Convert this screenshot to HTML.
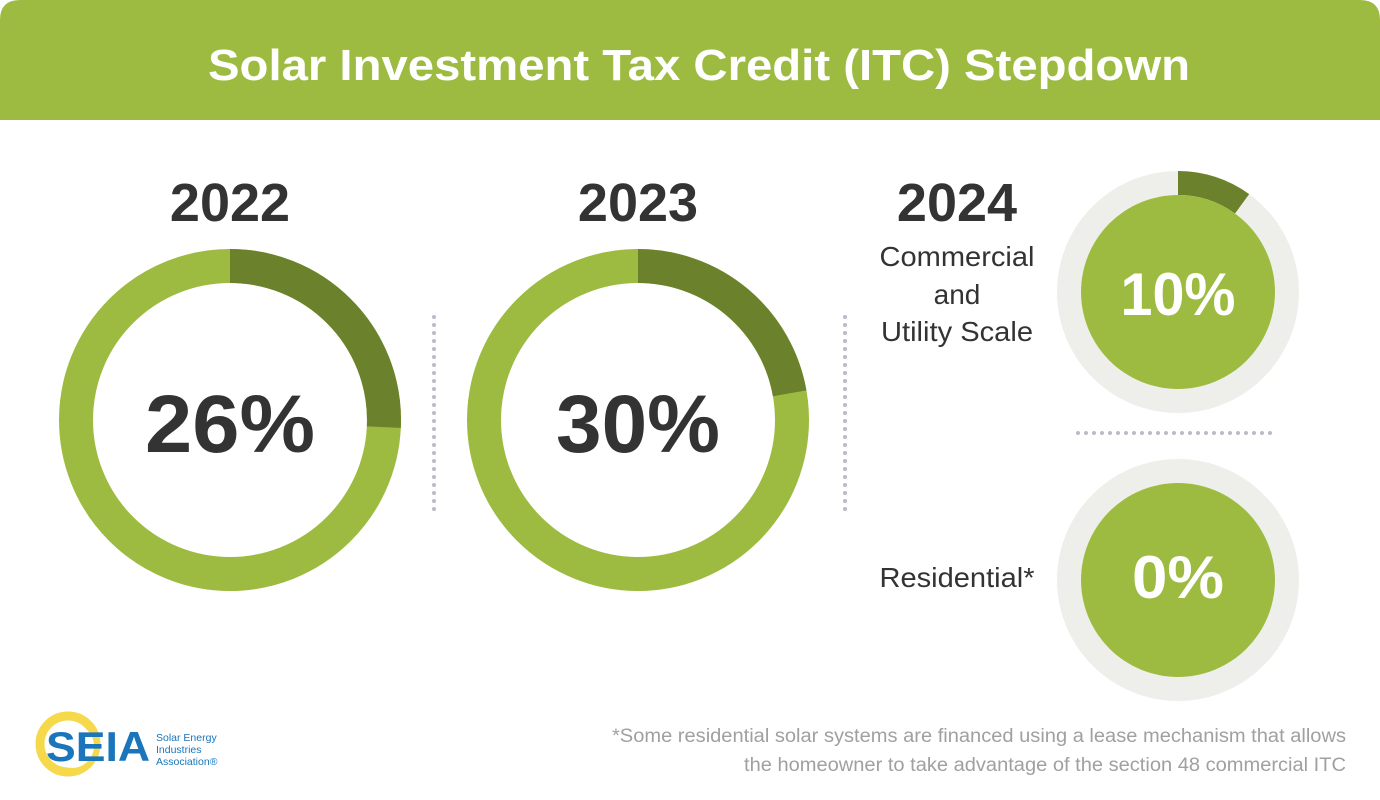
<!DOCTYPE html>
<html><head><meta charset="utf-8"><style>
html,body{margin:0;padding:0;background:#fff;}
svg{display:block;font-family:"Liberation Sans",sans-serif;}
</style></head><body>
<svg width="1380" height="800" viewBox="0 0 1380 800">
<path d="M0,20 Q0,0 20,0 L1360,0 Q1380,0 1380,20 L1380,120 L0,120 Z" fill="#9dbb40"/>
<text x="699" y="80" text-anchor="middle" font-size="44" font-weight="bold" fill="#fff" textLength="982" lengthAdjust="spacingAndGlyphs">Solar Investment Tax Credit (ITC) Stepdown</text>

<text x="230" y="221" text-anchor="middle" font-size="54" font-weight="bold" fill="#333">2022</text>
<circle cx="230" cy="420" r="154" fill="none" stroke="#9dbb40" stroke-width="34"/>
<circle cx="230" cy="420" r="154" fill="none" stroke="#6b812c" stroke-width="34" stroke-dasharray="249 2000" transform="rotate(-90 230 420)"/>
<text x="230" y="452" text-anchor="middle" font-size="82" font-weight="bold" fill="#333" textLength="170" lengthAdjust="spacingAndGlyphs">26%</text>

<text x="638" y="221" text-anchor="middle" font-size="54" font-weight="bold" fill="#333">2023</text>
<circle cx="638" cy="420" r="154" fill="none" stroke="#9dbb40" stroke-width="34"/>
<circle cx="638" cy="420" r="154" fill="none" stroke="#6b812c" stroke-width="34" stroke-dasharray="215 2000" transform="rotate(-90 638 420)"/>
<text x="638" y="452" text-anchor="middle" font-size="82" font-weight="bold" fill="#333" textLength="164" lengthAdjust="spacingAndGlyphs">30%</text>

<line x1="434" y1="317" x2="434" y2="515" stroke="#bdb9cc" stroke-width="4" stroke-linecap="round" stroke-dasharray="0 8"/>
<line x1="845" y1="317" x2="845" y2="515" stroke="#bdb9cc" stroke-width="4" stroke-linecap="round" stroke-dasharray="0 8"/>
<line x1="1078" y1="433" x2="1278" y2="433" stroke="#bdb9cc" stroke-width="4" stroke-linecap="round" stroke-dasharray="0 8"/>

<text x="957" y="221" text-anchor="middle" font-size="54" font-weight="bold" fill="#333">2024</text>
<text x="957" y="266" text-anchor="middle" font-size="28" fill="#333" textLength="155" lengthAdjust="spacingAndGlyphs">Commercial</text>
<text x="957" y="304" text-anchor="middle" font-size="28" fill="#333">and</text>
<text x="957" y="341" text-anchor="middle" font-size="28" fill="#333" textLength="152" lengthAdjust="spacingAndGlyphs">Utility Scale</text>
<text x="957" y="587" text-anchor="middle" font-size="28" fill="#333" textLength="155" lengthAdjust="spacingAndGlyphs">Residential*</text>

<circle cx="1178" cy="292" r="109" fill="none" stroke="#eeefea" stroke-width="24"/>
<circle cx="1178" cy="292" r="109" fill="none" stroke="#6b812c" stroke-width="24" stroke-dasharray="68.5 2000" transform="rotate(-90 1178 292)"/>
<circle cx="1178" cy="292" r="97" fill="#9dbb40"/>
<text x="1178" y="315" text-anchor="middle" font-size="60" font-weight="bold" fill="#fff" textLength="115" lengthAdjust="spacingAndGlyphs">10%</text>

<circle cx="1178" cy="580" r="109" fill="none" stroke="#eeefea" stroke-width="24"/>
<circle cx="1178" cy="580" r="97" fill="#9dbb40"/>
<text x="1178" y="598" text-anchor="middle" font-size="60" font-weight="bold" fill="#fff" textLength="92" lengthAdjust="spacingAndGlyphs">0%</text>

<text x="1346" y="742" text-anchor="end" font-size="19" fill="#a0a0a0" textLength="734" lengthAdjust="spacingAndGlyphs">*Some residential solar systems are financed using a lease mechanism that allows</text>
<text x="1346" y="771" text-anchor="end" font-size="19" fill="#a0a0a0" textLength="602" lengthAdjust="spacingAndGlyphs">the homeowner to take advantage of the section 48 commercial ITC</text>

<circle cx="68" cy="744" r="28" fill="none" stroke="#f5d94a" stroke-width="9"/>
<circle cx="72" cy="746" r="22" fill="#fff"/>
<text x="46" y="761" font-size="42" font-weight="bold" fill="#1a75bb" textLength="104" lengthAdjust="spacingAndGlyphs">SEIA</text>
<text x="156" y="741" font-size="10.5" fill="#1a75bb">Solar Energy</text>
<text x="156" y="753" font-size="10.5" fill="#1a75bb">Industries</text>
<text x="156" y="765" font-size="10.5" fill="#1a75bb">Association®</text>
</svg>
</body></html>
